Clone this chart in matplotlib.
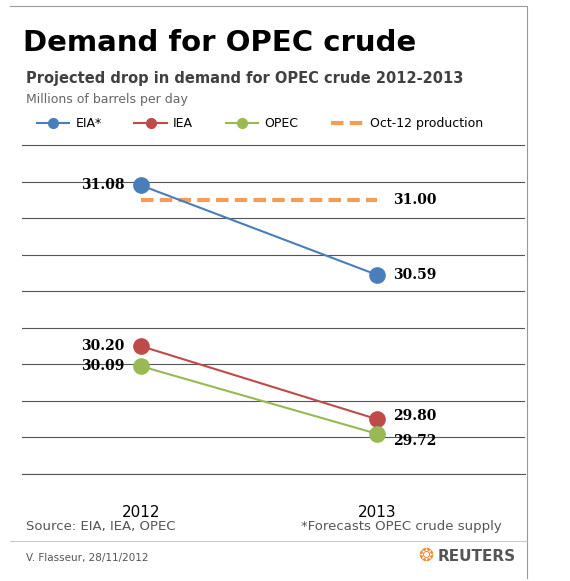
import matplotlib.pyplot as plt
from matplotlib.lines import Line2D

years = ["2012", "2013"]
eia = [31.08, 30.59]
iea = [30.20, 29.80]
opec = [30.09, 29.72]
oct12 = 31.00

blue = "#4a7ebb"
red = "#be4b48"
green = "#98b954"
orange = "#f59d56"

fig = plt.figure(figsize=(5.70, 5.81), dpi=100)
ax = fig.add_axes([22 / 570, 1 - 474 / 581, 503 / 570, 338 / 581])
x = [0, 1]

ax.plot(x, eia, color=blue, lw=1.5, marker="o", ms=11, zorder=3)
ax.plot(x, iea, color=red, lw=1.5, marker="o", ms=11, zorder=3)
ax.plot(x, opec, color=green, lw=1.5, marker="o", ms=11, zorder=3)
ax.plot([0, 1], [oct12, oct12], color=orange, lw=3, ls=(0, (3, 1.5)), zorder=2)

lab = dict(fontsize=10, fontweight="bold", family="DejaVu Serif")
ax.text(-0.07, eia[0], f"{eia[0]:.2f}", ha="right", va="center", **lab)
ax.text(1.07, eia[1], f"{eia[1]:.2f}", ha="left", va="center", **lab)
ax.text(-0.07, iea[0], f"{iea[0]:.2f}", ha="right", va="center", **lab)
ax.text(1.07, iea[1] + 0.02, f"{iea[1]:.2f}", ha="left", va="center", **lab)
ax.text(-0.07, opec[0], f"{opec[0]:.2f}", ha="right", va="center", **lab)
ax.text(1.07, opec[1] - 0.04, f"{opec[1]:.2f}", ha="left", va="center", **lab)
ax.text(1.07, oct12, f"{oct12:.2f}", ha="left", va="center", **lab)

ax.set_xlim(-0.504, 1.627)
ax.set_ylim(29.5, 31.35)
ax.set_yticks([29.5 + 0.2 * i for i in range(10)])
ax.set_yticklabels([])
ax.tick_params(axis="y", length=0)
ax.grid(axis="y", color="#555555", lw=0.8)
ax.set_xticks(x)
ax.set_xticklabels(years, fontsize=11)
ax.tick_params(axis="x", length=0, pad=22)
for s in ["top", "right", "left"]:
    ax.spines[s].set_visible(False)
ax.spines["bottom"].set_color("#555555")

fig.text(0.04, 0.912, "Demand for OPEC crude", fontsize=21, fontweight="bold")
fig.text(0.045, 0.857, "Projected drop in demand for OPEC crude 2012-2013",
         fontsize=10.5, fontweight="bold", color="#404040")
fig.text(0.045, 0.822, "Millions of barrels per day", fontsize=9, color="#666666")

handles = [
    Line2D([], [], color=blue, marker="o", ms=7, lw=1.5),
    Line2D([], [], color=red, marker="o", ms=7, lw=1.5),
    Line2D([], [], color=green, marker="o", ms=7, lw=1.5),
    Line2D([], [], color=orange, lw=3, ls=(0, (3, 1.5))),
]
fig.legend(handles, ["EIA*", "IEA", "OPEC", "Oct-12 production"], loc="center left",
           bbox_to_anchor=(0.045, 0.787), ncol=4, frameon=False, fontsize=9,
           handlelength=2.6, columnspacing=2.6, handletextpad=0.5)

fig.text(0.045, 0.088, "Source: EIA, IEA, OPEC", fontsize=9.5, color="#555555")
fig.text(0.88, 0.088, "*Forecasts OPEC crude supply", fontsize=9.5, color="#555555", ha="right")
fig.text(0.045, 0.035, "V. Flasseur, 28/11/2012", fontsize=7.5, color="#555555")
fig.text(0.905, 0.035, "REUTERS", fontsize=11, fontweight="bold", color="#555555", ha="right")
fig.text(0.76, 0.035, "\u2742", fontsize=13, color="#f08c2c", ha="right")

fig.add_artist(Line2D([0.018, 0.925, 0.925], [0.99, 0.99, 0.005], color="#999999", lw=0.8))
fig.add_artist(Line2D([0.018, 0.925], [0.068, 0.068], color="#bbbbbb", lw=0.6))

fig.savefig("out.png", dpi=100)
